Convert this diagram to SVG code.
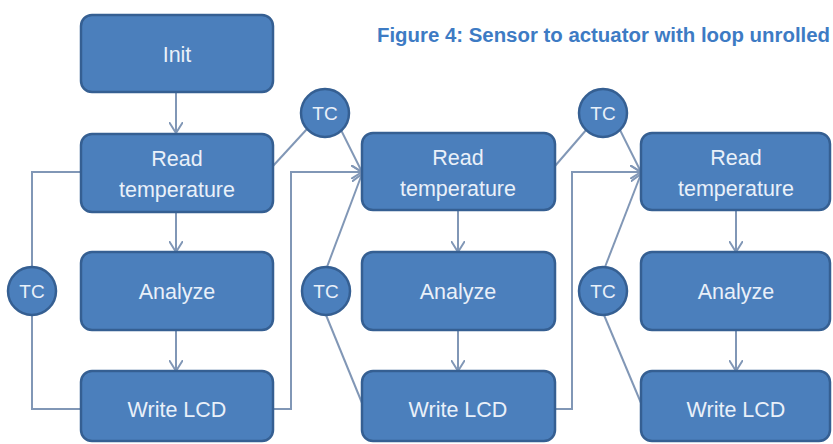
<svg xmlns="http://www.w3.org/2000/svg" width="833" height="444" viewBox="0 0 833 444">
  <style>
    .box { fill: #4b7fbc; stroke: #355f92; stroke-width: 2.5; }
    .tc { fill: #4b7fbc; stroke: #355f92; stroke-width: 2.5; }
    .lbl { font-family: "Liberation Sans", Arial, sans-serif; font-size: 21.5px; fill: #e9f0f9; text-anchor: middle; }
    .tcl { font-family: "Liberation Sans", Arial, sans-serif; font-size: 19px; fill: #e9f0f9; text-anchor: middle; }
    .wire { fill: none; stroke: #8197b6; stroke-width: 2; }
    .title { font-family: "Liberation Sans", Arial, sans-serif; font-size: 19.5px; font-weight: bold; fill: #3d7bc4; }
  </style>
  <defs>
    <marker id="vee" viewBox="0 0 12 14" refX="11" refY="7" markerWidth="12" markerHeight="14" markerUnits="userSpaceOnUse" orient="auto">
      <path d="M0,0 L11,7 L0,14" fill="none" stroke="#8197b6" stroke-width="2"/>
    </marker>
  </defs>

  <rect width="833" height="444" fill="#ffffff"/>

  <text class="title" x="377" y="42" textLength="453" lengthAdjust="spacingAndGlyphs">Figure 4: Sensor to actuator with loop unrolled</text>

  <!-- connectors -->
  <g id="connectors">
    <!-- column 1 -->
    <line class="wire" x1="176" y1="92" x2="176" y2="133" marker-end="url(#vee)"/>
    <line class="wire" x1="176" y1="212" x2="176" y2="252" marker-end="url(#vee)"/>
    <line class="wire" x1="176" y1="330" x2="176" y2="371" marker-end="url(#vee)"/>
    <polyline class="wire" points="80,172 32,172 32,267"/>
    <polyline class="wire" points="32,315 32,409 80,409"/>
    <!-- column 1 to column 2 -->
    <line class="wire" x1="273" y1="166" x2="307" y2="129"/>
    <line class="wire" x1="341" y1="130" x2="362" y2="172" marker-end="url(#vee)"/>
    <polyline class="wire" points="273,409 291,409 291,172 362,172" marker-end="url(#vee)"/>
    <line class="wire" x1="327" y1="267" x2="362" y2="174" marker-end="url(#vee)"/>
    <line class="wire" x1="326" y1="315" x2="362" y2="403"/>
    <!-- column 2 -->
    <line class="wire" x1="458" y1="210" x2="458" y2="252" marker-end="url(#vee)"/>
    <line class="wire" x1="458" y1="330" x2="458" y2="371" marker-end="url(#vee)"/>
    <!-- column 2 to column 3 -->
    <line class="wire" x1="555" y1="166" x2="587" y2="129"/>
    <line class="wire" x1="620" y1="130" x2="641" y2="172" marker-end="url(#vee)"/>
    <polyline class="wire" points="555,409 572,409 572,172 641,172" marker-end="url(#vee)"/>
    <line class="wire" x1="605" y1="267" x2="641" y2="174" marker-end="url(#vee)"/>
    <line class="wire" x1="604" y1="315" x2="641" y2="403"/>
    <!-- column 3 -->
    <line class="wire" x1="736" y1="210" x2="736" y2="252" marker-end="url(#vee)"/>
    <line class="wire" x1="736" y1="330" x2="736" y2="371" marker-end="url(#vee)"/>
  </g>

  <!-- column 1 -->
  <g id="init">
    <rect class="box" x="81" y="15" width="192" height="77" rx="11"/>
    <text class="lbl" x="177" y="62">Init</text>
  </g>
  <g id="read1">
    <rect class="box" x="81" y="134" width="192" height="78" rx="11"/>
    <text class="lbl" x="177" y="166">Read</text>
    <text class="lbl" x="177" y="197">temperature</text>
  </g>
  <g id="analyze1">
    <rect class="box" x="81" y="252" width="192" height="78" rx="11"/>
    <text class="lbl" x="177" y="299">Analyze</text>
  </g>
  <g id="write1">
    <rect class="box" x="81" y="371" width="192" height="70" rx="11"/>
    <text class="lbl" x="177" y="417">Write LCD</text>
  </g>

  <!-- column 2 -->
  <g id="read2">
    <rect class="box" x="362" y="133" width="193" height="77" rx="11"/>
    <text class="lbl" x="458" y="165">Read</text>
    <text class="lbl" x="458" y="196">temperature</text>
  </g>
  <g id="analyze2">
    <rect class="box" x="362" y="252" width="193" height="78" rx="11"/>
    <text class="lbl" x="458" y="299">Analyze</text>
  </g>
  <g id="write2">
    <rect class="box" x="362" y="371" width="193" height="70" rx="11"/>
    <text class="lbl" x="458" y="417">Write LCD</text>
  </g>

  <!-- column 3 -->
  <g id="read3">
    <rect class="box" x="641" y="133" width="189" height="77" rx="11"/>
    <text class="lbl" x="736" y="165">Read</text>
    <text class="lbl" x="736" y="196">temperature</text>
  </g>
  <g id="analyze3">
    <rect class="box" x="641" y="252" width="189" height="78" rx="11"/>
    <text class="lbl" x="736" y="299">Analyze</text>
  </g>
  <g id="write3">
    <rect class="box" x="641" y="371" width="189" height="70" rx="11"/>
    <text class="lbl" x="736" y="417">Write LCD</text>
  </g>

  <!-- TC nodes -->
  <g id="tc-left">
    <circle class="tc" cx="32" cy="291" r="24"/>
    <text class="tcl" x="32" y="298">TC</text>
  </g>
  <g id="tc-top2">
    <circle class="tc" cx="325" cy="113" r="24"/>
    <text class="tcl" x="325" y="120">TC</text>
  </g>
  <g id="tc-bottom2">
    <circle class="tc" cx="326" cy="291" r="24"/>
    <text class="tcl" x="326" y="298">TC</text>
  </g>
  <g id="tc-top3">
    <circle class="tc" cx="603" cy="113" r="24"/>
    <text class="tcl" x="603" y="120">TC</text>
  </g>
  <g id="tc-bottom3">
    <circle class="tc" cx="603" cy="291" r="24"/>
    <text class="tcl" x="603" y="298">TC</text>
  </g>
</svg>
